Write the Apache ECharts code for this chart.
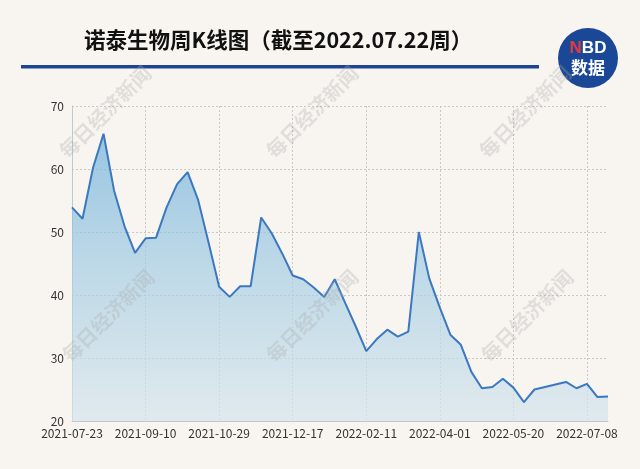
<!DOCTYPE html>
<html><head><meta charset="utf-8">
<script src="https://cdn.jsdelivr.net/npm/echarts@6/dist/echarts.min.js"></script>
<style>html,body{margin:0;padding:0;background:#f8f5f0}#c{width:640px;height:469px}</style>
</head><body><div id="c"></div>
<script>
const titleText = '诺泰生物周K线图（截至2022.07.22周）';
const weeks = ['2021-07-23','2021-07-30','2021-08-06','2021-08-13','2021-08-20','2021-08-27','2021-09-03',
'2021-09-10','2021-09-17','2021-09-24','2021-09-30','2021-10-08','2021-10-15','2021-10-22',
'2021-10-29','2021-11-05','2021-11-12','2021-11-19','2021-11-26','2021-12-03','2021-12-10',
'2021-12-17','2021-12-24','2021-12-31','2022-01-07','2022-01-14','2022-01-21','2022-01-28',
'2022-02-11','2022-02-18','2022-02-25','2022-03-04','2022-03-11','2022-03-18','2022-03-25',
'2022-04-01','2022-04-08','2022-04-15','2022-04-22','2022-04-29','2022-05-06','2022-05-13',
'2022-05-20','2022-05-27','2022-06-02','2022-06-10','2022-06-17','2022-06-24','2022-07-01',
'2022-07-08','2022-07-15','2022-07-22'];
const closes = [53.9,52.1,60.2,65.6,56.6,50.9,46.7,49.0,49.1,53.9,57.6,59.5,55.1,48.3,
41.3,39.7,41.4,41.4,52.3,49.8,46.6,43.1,42.5,41.2,39.7,42.5,38.7,35.0,
31.1,33.0,34.5,33.4,34.2,50.0,42.6,38.0,33.7,32.1,27.8,25.2,25.4,26.7,
25.3,23.0,25.0,25.4,25.8,26.2,25.2,25.9,23.8,23.9];
const yTicks = {min:20, max:70, step:10};
const watermark = '每日经济新闻';

const chart = echarts.init(document.getElementById('c'), null, {renderer:'canvas'});
const wmPos = [[105,112],[312,112],[525,112],[108,316],[312,316],[527,316]];
const graphics = wmPos.map(p => ({
  type:'text', x:p[0], y:p[1], rotation:Math.PI/4, z:100, silent:true,
  style:{text:watermark, fontSize:20, fontWeight:'bold', fontFamily:'Noto Sans CJK SC',
    fill:'rgba(170,170,170,0.3)', align:'center', verticalAlign:'middle'}
}));
graphics.push(
  {type:'text', x:84, y:40, style:{text:titleText, fontSize:21.5, fontWeight:'bold',
    fontFamily:'Noto Sans CJK SC', fill:'#111', verticalAlign:'middle'}},
  {type:'rect', shape:{x:21, y:65, width:518, height:3.5}, style:{fill:'#1d4494'}},
  {type:'circle', shape:{cx:588, cy:58, r:30}, style:{fill:'#1b4896'}},
  {type:'text', x:588, y:48, style:{text:'{r|N}{w|BD}', align:'center', verticalAlign:'middle',
    rich:{r:{fill:'#e8383d', fontSize:17, fontWeight:'bold', fontFamily:'Liberation Sans'},
          w:{fill:'#fff', fontSize:17, fontWeight:'bold', fontFamily:'Liberation Sans'}}}},
  {type:'text', x:588, y:68, style:{text:'数据', align:'center', verticalAlign:'middle',
    fill:'#fff', fontSize:17, fontWeight:'bold', fontFamily:'Noto Sans CJK SC'}}
);

chart.setOption({
  backgroundColor:'#f8f5f0',
  animation:false,
  grid:{left:72, right:32, top:106, bottom:48},
  xAxis:{type:'category', data:weeks, boundaryGap:false,
    axisLine:{lineStyle:{color:'#b9c9d6'}}, axisTick:{show:false},
    axisLabel:{interval:6, color:'#333', fontSize:12, margin:6, fontFamily:'Noto Sans CJK SC'},
    splitLine:{show:true, interval:6, lineStyle:{color:'#c8c8c8', type:[2,2]}}},
  yAxis:{type:'value', min:yTicks.min, max:yTicks.max, interval:yTicks.step,
    axisLine:{show:true, lineStyle:{color:'#b9c9d6'}}, axisTick:{show:false},
    axisLabel:{color:'#333', fontSize:12, margin:8, fontFamily:'Noto Sans CJK SC'},
    splitLine:{lineStyle:{color:'#c8c8c8', type:[2,2]}}},
  series:[{type:'line', data:closes, symbol:'none', smooth:false,
    lineStyle:{color:'#3b78bf', width:2},
    areaStyle:{color:new echarts.graphic.LinearGradient(0,0,0,1,[
      {offset:0, color:'#6fb1dc'},{offset:0.45, color:'#a3cce3'},{offset:1, color:'#d6e5ed'}])}}],
  graphic:graphics
});
</script></body></html>
